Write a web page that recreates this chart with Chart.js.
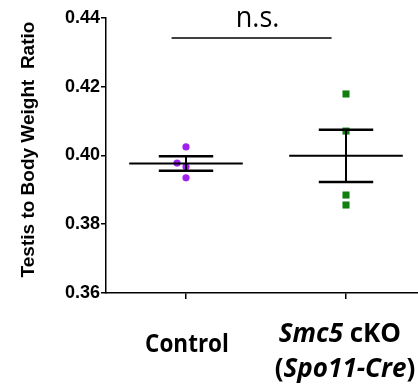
<!DOCTYPE html>
<html>
<head>
<meta charset="utf-8">
<script src="https://cdn.jsdelivr.net/npm/chart.js@4/dist/chart.umd.min.js"></script>
<style>
  html, body { margin: 0; padding: 0; background: #fff; }
  #wrap { width: 418px; height: 386px; }
</style>
</head>
<body>
<div id="wrap"><canvas id="c" width="418" height="386"></canvas></div>
<script>
// ---- data ----
const categories = ['Control', 'Smc5 cKO (Spo11-Cre)'];
const controlValues = [0.4025, 0.3978, 0.3967, 0.3935];
const controlJitter = [0, -0.056, 0, 0];
const smc5Values = [0.4179, 0.4071, 0.3885, 0.3856];
const smc5Jitter = [0, 0, 0, 0];
const groupMeans = [0.3977, 0.3999];
const groupSEM = [0.0021, 0.0076];
const yTicks = [0.36, 0.38, 0.40, 0.42, 0.44];
const sigLabel = 'n.s.';
const sigLevel = 0.4342;

const controlPoints = controlValues.map((v, i) => ({ x: 0 + controlJitter[i], y: v }));
const smc5Points = smc5Values.map((v, i) => ({ x: 1 + smc5Jitter[i], y: v }));

const CAL_BOLD = '"Open Sans", "Noto Sans", sans-serif';

function drawRuns(ctx, runs, x, baseline, size, kx) {
  ctx.save();
  ctx.translate(x, baseline);
  ctx.scale(kx, 1);
  let cx = 0;
  for (const r of runs) {
    ctx.font = (r.italic ? 'italic ' : '') + '700 ' + size + 'px ' + CAL_BOLD;
    ctx.fillText(r.t, cx, 0);
    cx += ctx.measureText(r.t).width;
  }
  ctx.restore();
}
function runsWidth(ctx, runs, size, kx) {
  let w = 0;
  ctx.save();
  for (const r of runs) {
    ctx.font = (r.italic ? 'italic ' : '') + '700 ' + size + 'px ' + CAL_BOLD;
    w += ctx.measureText(r.t).width;
  }
  ctx.restore();
  return w * kx;
}

const decor = {
  id: 'decor',
  afterDatasetsDraw(chart) {
    const { ctx, scales: { x, y } } = chart;
    ctx.save();
    ctx.strokeStyle = '#000';
    ctx.lineCap = 'butt';
    groupMeans.forEach((m, i) => {
      const cx = x.getPixelForValue(i);
      const ym = y.getPixelForValue(m);
      const yt = y.getPixelForValue(m + groupSEM[i]);
      const yb = y.getPixelForValue(m - groupSEM[i]);
      ctx.lineWidth = 2;
      ctx.beginPath();
      ctx.moveTo(x.getPixelForValue(i - 0.355), ym);
      ctx.lineTo(x.getPixelForValue(i + 0.355), ym);
      ctx.stroke();
      ctx.lineWidth = 2;
      ctx.beginPath();
      ctx.moveTo(cx, yt);
      ctx.lineTo(cx, yb);
      ctx.stroke();
      ctx.lineWidth = 2.5;
      ctx.beginPath();
      ctx.moveTo(x.getPixelForValue(i - 0.17), yt);
      ctx.lineTo(x.getPixelForValue(i + 0.17), yt);
      ctx.moveTo(x.getPixelForValue(i - 0.17), yb);
      ctx.lineTo(x.getPixelForValue(i + 0.17), yb);
      ctx.stroke();
    });
    ctx.lineWidth = 1.6;
    ctx.beginPath();
    const ys = y.getPixelForValue(sigLevel);
    ctx.moveTo(x.getPixelForValue(-0.09), ys);
    ctx.lineTo(x.getPixelForValue(0.91), ys);
    ctx.stroke();
    ctx.restore();
  },
  afterDraw(chart) {
    const { ctx, scales: { x, y } } = chart;
    ctx.save();
    ctx.fillStyle = '#000';
    ctx.textBaseline = 'alphabetic';
    // n.s.
    ctx.save();
    ctx.translate((x.getPixelForValue(-0.09) + x.getPixelForValue(0.91)) / 2 + 6, y.getPixelForValue(sigLevel) - 11);
    ctx.scale(0.9, 1);
    ctx.font = '400 30px "Open Sans", sans-serif';
    ctx.textAlign = 'center';
    ctx.fillText(sigLabel, 0, 0);
    ctx.restore();
    // y title
    ctx.save();
    ctx.translate(34, (chart.chartArea.top + chart.chartArea.bottom) / 2 - 6);
    ctx.rotate(-Math.PI / 2);
    ctx.font = 'bold 19px "Liberation Sans", Arial, sans-serif';
    ctx.textAlign = 'center';
    ctx.fillText('Testis to Body Weight  Ratio', 0, 0);
    ctx.restore();
    // x category labels
    ctx.textAlign = 'left';
    const c0 = x.getPixelForValue(0);
    const r0 = [{ t: 'Control', italic: false }];
    const w0 = runsWidth(ctx, r0, 25, 0.9);
    drawRuns(ctx, r0, c0 + 1 - w0 / 2, 352, 25, 0.9);
    const c1 = x.getPixelForValue(1);
    const l1 = [{ t: 'Smc5', italic: true }, { t: ' cKO', italic: false }];
    const l2 = [{ t: '(', italic: false }, { t: 'Spo11-Cre', italic: true }, { t: ')', italic: false }];
    const s2 = 26, k2 = 1.0;
    const wb = Math.max(runsWidth(ctx, l1, s2, k2), runsWidth(ctx, l2, s2, k2));
    const left = c1 - 1 - wb / 2;
    drawRuns(ctx, l1, left + 4, 342, s2, k2);
    drawRuns(ctx, l2, left, 377, s2, k2);
    ctx.restore();
  }
};

new Chart(document.getElementById('c'), {
  type: 'scatter',
  data: {
    datasets: [
      {
        label: categories[0],
        data: controlPoints,
        pointStyle: 'circle',
        pointRadius: 3.6,
        pointHoverRadius: 3.6,
        backgroundColor: '#a020f0',
        borderColor: '#a020f0',
        borderWidth: 0
      },
      {
        label: categories[1],
        data: smc5Points,
        pointStyle: 'rect',
        pointRadius: 5,
        pointHoverRadius: 5,
        backgroundColor: '#107f10',
        borderColor: '#107f10',
        borderWidth: 0
      }
    ]
  },
  options: {
    responsive: false,
    devicePixelRatio: 1,
    animation: false,
    events: [],
    layout: { autoPadding: false, padding: { top: 18, right: 0, bottom: 87, left: 0 } },
    plugins: { legend: { display: false }, tooltip: { enabled: false } },
    scales: {
      x: {
        type: 'linear',
        min: -0.5,
        max: 1.45,
        afterBuildTicks(s) { s.ticks = [{ value: 0 }, { value: 1 }]; },
        ticks: { display: false },
        grid: { drawOnChartArea: false, drawTicks: true, tickLength: 6, color: '#000', lineWidth: 1.5 },
        border: { display: true, color: '#000', width: 1.5 }
      },
      y: {
        type: 'linear',
        min: 0.36,
        max: 0.44,
        afterBuildTicks(s) { s.ticks = yTicks.map(v => ({ value: v })); },
        afterFit(s) { s.width = 106; },
        ticks: {
          color: '#000',
          padding: 1,
          font: { family: '"Liberation Sans", Arial, sans-serif', size: 18, weight: 'bold' },
          callback: v => v.toFixed(2)
        },
        grid: { drawOnChartArea: false, drawTicks: true, tickLength: 5, color: '#000', lineWidth: 1.5 },
        border: { display: true, color: '#000', width: 1.5 }
      }
    }
  },
  plugins: [decor]
});
</script>
</body>
</html>
